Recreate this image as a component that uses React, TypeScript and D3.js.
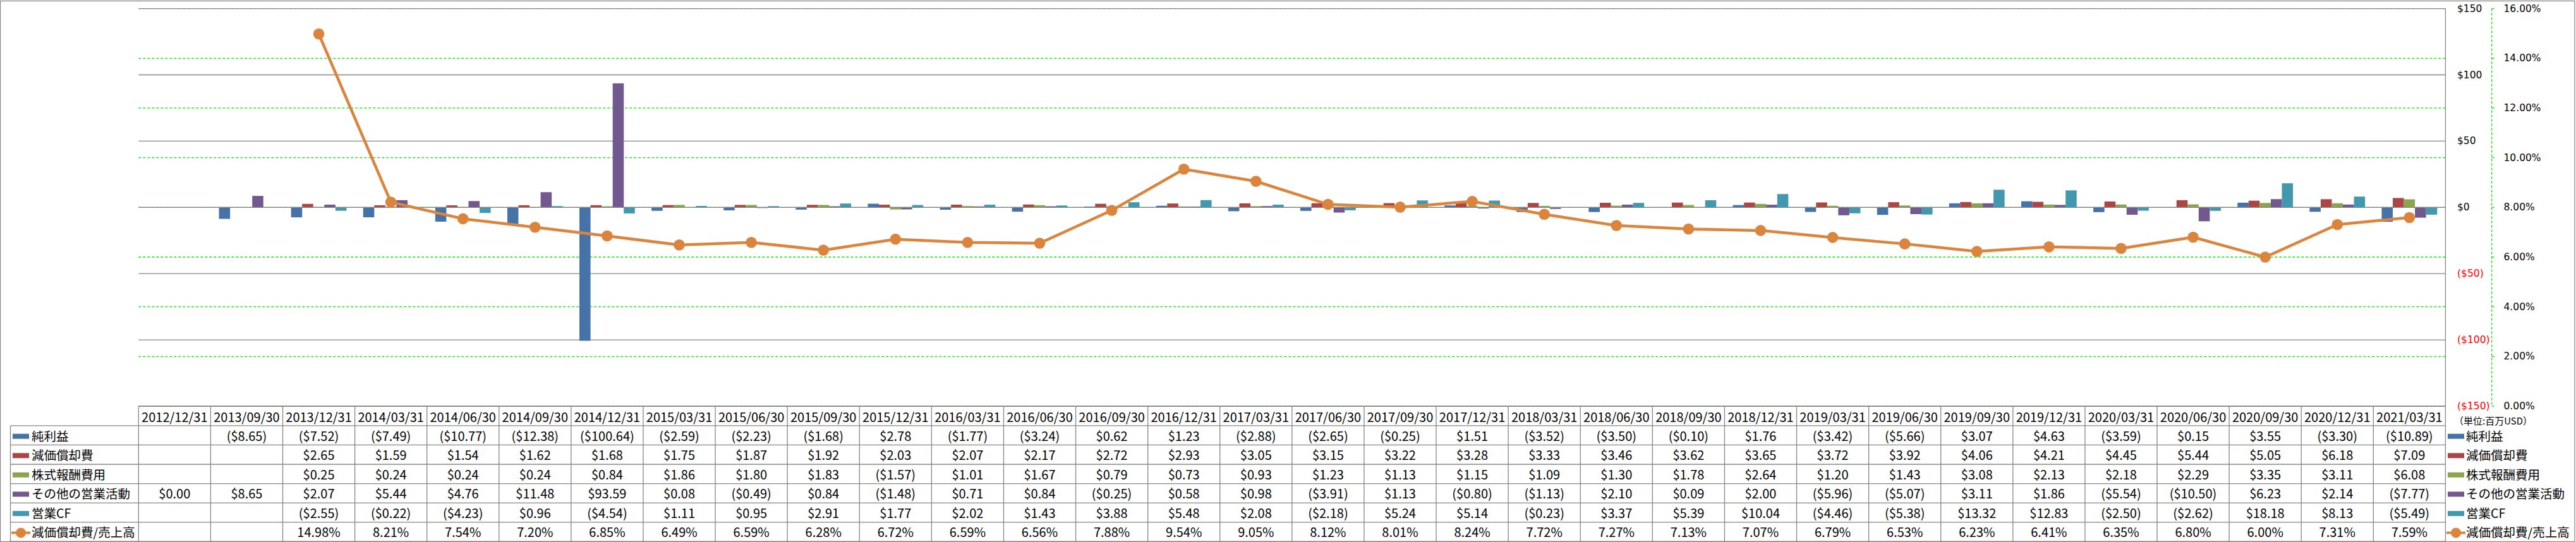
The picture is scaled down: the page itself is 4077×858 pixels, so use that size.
import React from 'react';
import * as d3 from 'd3';

const dates = [
  '2012/12/31', '2013/09/30', '2013/12/31', '2014/03/31', '2014/06/30', '2014/09/30', '2014/12/31',
  '2015/03/31', '2015/06/30', '2015/09/30', '2015/12/31', '2016/03/31', '2016/06/30', '2016/09/30',
  '2016/12/31', '2017/03/31', '2017/06/30', '2017/09/30', '2017/12/31', '2018/03/31', '2018/06/30',
  '2018/09/30', '2018/12/31', '2019/03/31', '2019/06/30', '2019/09/30', '2019/12/31', '2020/03/31',
  '2020/06/30', '2020/09/30', '2020/12/31', '2021/03/31',
];

const netIncome = [
  null, -8.65, -7.52, -7.49, -10.77, -12.38, -100.64, -2.59, -2.23, -1.68, 2.78, -1.77, -3.24, 0.62,
  1.23, -2.88, -2.65, -0.25, 1.51, -3.52, -3.50, -0.10, 1.76, -3.42, -5.66, 3.07, 4.63, -3.59, 0.15,
  3.55, -3.30, -10.89,
];
const depreciation = [
  null, null, 2.65, 1.59, 1.54, 1.62, 1.68, 1.75, 1.87, 1.92, 2.03, 2.07, 2.17, 2.72, 2.93, 3.05,
  3.15, 3.22, 3.28, 3.33, 3.46, 3.62, 3.65, 3.72, 3.92, 4.06, 4.21, 4.45, 5.44, 5.05, 6.18, 7.09,
];
const stockComp = [
  null, null, 0.25, 0.24, 0.24, 0.24, 0.84, 1.86, 1.80, 1.83, -1.57, 1.01, 1.67, 0.79, 0.73, 0.93,
  1.23, 1.13, 1.15, 1.09, 1.30, 1.78, 2.64, 1.20, 1.43, 3.08, 2.13, 2.18, 2.29, 3.35, 3.11, 6.08,
];
const otherOps = [
  0.00, 8.65, 2.07, 5.44, 4.76, 11.48, 93.59, 0.08, -0.49, 0.84, -1.48, 0.71, 0.84, -0.25, 0.58,
  0.98, -3.91, 1.13, -0.80, -1.13, 2.10, 0.09, 2.00, -5.96, -5.07, 3.11, 1.86, -5.54, -10.50, 6.23,
  2.14, -7.77,
];
const operatingCF = [
  null, null, -2.55, -0.22, -4.23, 0.96, -4.54, 1.11, 0.95, 2.91, 1.77, 2.02, 1.43, 3.88, 5.48, 2.08,
  -2.18, 5.24, 5.14, -0.23, 3.37, 5.39, 10.04, -4.46, -5.38, 13.32, 12.83, -2.50, -2.62, 18.18, 8.13,
  -5.49,
];
const depRatio = [
  null, null, 14.98, 8.21, 7.54, 7.20, 6.85, 6.49, 6.59, 6.28, 6.72, 6.59, 6.56, 7.88, 9.54, 9.05,
  8.12, 8.01, 8.24, 7.72, 7.27, 7.13, 7.07, 6.79, 6.53, 6.23, 6.41, 6.35, 6.80, 6.00, 7.31, 7.59,
];

const barSeriesNames = ['純利益', '減価償却費', '株式報酬費用', 'その他の営業活動', '営業CF'];
const lineSeriesName = '減価償却費/売上高';
const unitLabel = '（単位:百万USD）';
const leftTicks = [-150, -100, -50, 0, 50, 100, 150];
const rightTicks = [0, 2, 4, 6, 8, 10, 12, 14, 16];

const barColors = ['#4572A7', '#AA4643', '#89A54E', '#71588F', '#4198AF'];
const lineColor = '#DB843D';

const W = 4077;
const H = 858;
const plotLeft = 219.3;
const plotRight = 3870.4;
const plotTop = 13.6;
const plotBottom = 643;
const headerH = 30.9;
const rowH = 30.55;
const tableLeft = 16.5;
const gridGray = '#868686';
const green = '#00EE00';

const fmtMoney = (v: number | null) =>
  v == null ? '' : v < 0 ? `($${Math.abs(v).toFixed(2)})` : `$${v.toFixed(2)}`;
const fmtTick = (v: number) => (v < 0 ? `($${Math.abs(v)})` : `$${v}`);
const fmtPct = (v: number | null) => (v == null ? '' : `${v.toFixed(2)}%`);

export default function App() {
  const barSeries = [netIncome, depreciation, stockComp, otherOps, operatingCF];
  const x = d3.scaleBand<string>().domain(dates).range([plotLeft, plotRight]).paddingInner(0).paddingOuter(0);
  const xSub = d3
    .scaleBand<string>()
    .domain(barSeriesNames)
    .range([0, x.bandwidth()])
    .paddingInner(0)
    .paddingOuter(0.75);
  const yL = d3.scaleLinear().domain([-150, 150]).range([plotBottom, plotTop]);
  const yR = d3.scaleLinear().domain([0, 16]).range([plotBottom, plotTop]);

  const linePts = dates
    .map((d, i) => ({ d, v: depRatio[i] }))
    .filter((p) => p.v != null) as { d: string; v: number }[];
  const lineGen = d3
    .line<{ d: string; v: number }>()
    .x((p) => (x(p.d) as number) + x.bandwidth() / 2)
    .y((p) => yR(p.v));

  const tableTop = plotBottom;
  const rowTop = (r: number) => tableTop + headerH + r * rowH;
  const rowMid = (r: number) => rowTop(r) + rowH / 2;
  const tableBottom = rowTop(6);

  const rows: { name: string; values: string[] }[] = [
    ...barSeriesNames.map((n, si) => ({ name: n, values: barSeries[si].map(fmtMoney) })),
    { name: lineSeriesName, values: depRatio.map(fmtPct) },
  ];

  const tableFont = "'Noto Sans CJK JP', sans-serif";
  const axisFont = "'DejaVu Sans', sans-serif";
  const greenAxisX = 3943.7;

  const renderKey = (r: number, x0: number) => {
    const cy = rowMid(r) + 1.5;
    if (r < 5) {
      return <rect x={x0} y={cy - 4} width={26} height={8} fill={barColors[r]} />;
    }
    return (
      <g>
        <line x1={x0 - 2} x2={x0 + 28} y1={cy} y2={cy} stroke={lineColor} strokeWidth={4} />
        <circle cx={x0 + 13} cy={cy} r={8} fill={lineColor} />
      </g>
    );
  };

  return (
    <div style={{ position: 'absolute', left: 0, top: 0 }}>
      <svg width={W} height={H} style={{ display: 'block', background: '#fff' }}>
        <rect x={0} y={0} width={W} height={H} fill="#fff" />
        {/* chart border */}
        <rect x={0.5} y={1.5} width={W - 2.5} height={H - 2} fill="none" stroke={gridGray} strokeWidth={1.3} />

        {/* green dashed % gridlines */}
        {rightTicks.map((t) => (
          <line
            key={'g' + t}
            x1={plotLeft}
            x2={plotRight}
            y1={yR(t)}
            y2={yR(t)}
            stroke={green}
            strokeWidth={1.3}
            strokeDasharray="4,3"
          />
        ))}
        {/* gray $ gridlines */}
        {leftTicks.map((t) => (
          <line
            key={'l' + t}
            x1={plotLeft}
            x2={plotRight}
            y1={yL(t)}
            y2={yL(t)}
            stroke={gridGray}
            strokeWidth={1.3}
          />
        ))}

        {/* bars */}
        {barSeries.map((s, si) =>
          s.map((v, i) =>
            v == null || v === 0 ? null : (
              <rect
                key={`b${si}-${i}`}
                x={(x(dates[i]) as number) + (xSub(barSeriesNames[si]) as number)}
                y={yL(Math.max(0, v))}
                width={xSub.bandwidth()}
                height={Math.abs(yL(v) - yL(0))}
                fill={barColors[si]}
              />
            )
          )
        )}
        {/* zero line on top */}
        <line x1={plotLeft} x2={plotRight} y1={yL(0)} y2={yL(0)} stroke={gridGray} strokeWidth={1.3} />

        {/* line series */}
        <path d={lineGen(linePts) || ''} fill="none" stroke={lineColor} strokeWidth={4.5} strokeLinejoin="round" />
        {linePts.map((p) => (
          <circle
            key={'m' + p.d}
            cx={(x(p.d) as number) + x.bandwidth() / 2}
            cy={yR(p.v)}
            r={8.8}
            fill={lineColor}
          />
        ))}

        {/* right primary axis line */}
        <line x1={plotRight} x2={plotRight} y1={plotTop} y2={tableBottom} stroke={gridGray} strokeWidth={1.3} />
        {leftTicks.map((t) => (
          <text
            key={'lt' + t}
            x={3889}
            y={yL(t)}
            dominantBaseline="central"
            fontFamily={axisFont}
            fontSize={15.5}
            fill={t < 0 ? '#FF0000' : '#000'}
          >
            {fmtTick(t)}
          </text>
        ))}

        {/* secondary % axis */}
        <line
          x1={greenAxisX}
          x2={greenAxisX}
          y1={plotTop}
          y2={plotBottom}
          stroke={green}
          strokeWidth={1.3}
          strokeDasharray="4,3"
        />
        {rightTicks.map((t) => (
          <g key={'rt' + t}>
            <line x1={greenAxisX} x2={greenAxisX + 4} y1={yR(t)} y2={yR(t)} stroke={green} strokeWidth={1.3} />
            <text
              x={3962.5}
              y={yR(t)}
              dominantBaseline="central"
              fontFamily={axisFont}
              fontSize={15.5}
              fill="#000"
            >
              {fmtPct(t)}
            </text>
          </g>
        ))}
        <text x={3884} y={665} dominantBaseline="central" fontFamily={tableFont} fontSize={15} fill="#000">
          {unitLabel}
        </text>

        {/* data table */}
        <line x1={plotLeft} x2={plotRight} y1={tableTop + 0.3} y2={tableTop + 0.3} stroke={gridGray} strokeWidth={1.3} />
        {d3.range(7).map((r) => (
          <line
            key={'row' + r}
            x1={tableLeft}
            x2={plotRight}
            y1={rowTop(r)}
            y2={rowTop(r)}
            stroke={gridGray}
            strokeWidth={1.3}
          />
        ))}
        <line x1={tableLeft} x2={tableLeft} y1={rowTop(0)} y2={tableBottom} stroke={gridGray} strokeWidth={1.3} />
        {dates.map((d) => (
          <line
            key={'v' + d}
            x1={x(d) as number}
            x2={x(d) as number}
            y1={tableTop}
            y2={tableBottom}
            stroke={gridGray}
            strokeWidth={1.3}
          />
        ))}
        {dates.map((d) => (
          <text
            key={'h' + d}
            x={(x(d) as number) + x.bandwidth() / 2}
            y={tableTop + headerH / 2 + 1}
            textAnchor="middle"
            dominantBaseline="central"
            fontFamily={tableFont}
            fontSize={20}
            fill="#000"
          >
            {d}
          </text>
        ))}
        {rows.map((row, r) => (
          <g key={'r' + r}>
            {renderKey(r, 20)}
            <text x={50} y={rowMid(r)} dominantBaseline="central" fontFamily={tableFont} fontSize={19.5} fill="#000">
              {row.name}
            </text>
            {row.values.map((v, i) =>
              v ? (
                <text
                  key={'c' + i}
                  x={(x(dates[i]) as number) + x.bandwidth() / 2}
                  y={rowMid(r)}
                  textAnchor="middle"
                  dominantBaseline="central"
                  fontFamily={tableFont}
                  fontSize={20}
                  fill="#000"
                >
                  {v}
                </text>
              ) : null
            )}
            {/* right legend */}
            {renderKey(r, 3874)}
            <text x={3903} y={rowMid(r)} dominantBaseline="central" fontFamily={tableFont} fontSize={19.5} fill="#000">
              {row.name}
            </text>
          </g>
        ))}
      </svg>
    </div>
  );
}
